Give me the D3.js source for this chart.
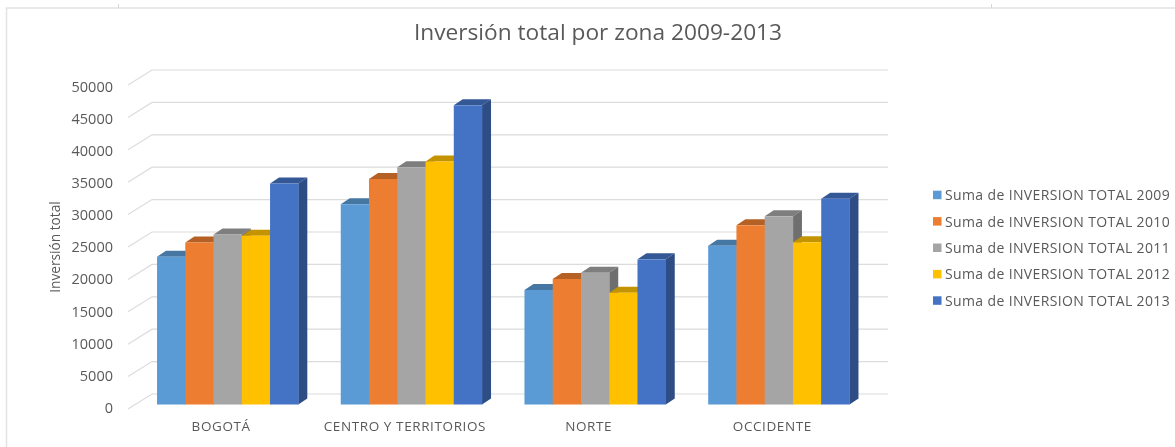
<!DOCTYPE html>
<html><head><meta charset="utf-8">
<script src="https://cdnjs.cloudflare.com/ajax/libs/d3/7.8.5/d3.min.js"></script>
<style>html,body{margin:0;padding:0;background:#fff;overflow:hidden}svg{display:block;font-family:"Open Sans",sans-serif;filter:blur(0.45px)}</style>
</head><body><svg id="c" width="1175" height="447"></svg>
<script>
const categories = ["BOGOTÁ","CENTRO Y TERRITORIOS","NORTE","OCCIDENTE"];
const seriesNames = ["Suma de INVERSION TOTAL 2009","Suma de INVERSION TOTAL 2010","Suma de INVERSION TOTAL 2011","Suma de INVERSION TOTAL 2012","Suma de INVERSION TOTAL 2013"];
const values2009 = [22800,30900,17670,24500];
const values2010 = [25000,34800,19370,27650];
const values2011 = [26250,36600,20340,29040];
const values2012 = [26050,37500,17250,25030];
const values2013 = [34100,46170,22400,31760];
const yTicks = [0,5000,10000,15000,20000,25000,30000,35000,40000,45000,50000];
const colors = ["#5b9bd5","#ed7d31","#a5a5a5","#ffc000","#4472c4"];
const allValues = [values2009,values2010,values2011,values2012,values2013];

const svg = d3.select("#c");
const dx = 9, dy = 6;
const floorY = 404.5, topY = 80.5;
const y = d3.scaleLinear().domain([0,50000]).range([floorY,topY]);
const yLabel = d3.scaleLinear().domain([0,50000]).range([413,91.7]);
const x0 = d3.scaleBand().domain(categories).range([135.9,870.6]).paddingInner(0.231).paddingOuter(0.115);
const x1 = d3.scaleBand().domain(seriesNames).range([0,x0.bandwidth()]);

// frame
svg.append("rect").attr("x",6.5).attr("y",8).attr("width",1175).attr("height",450).attr("fill","#fff").attr("stroke","#e2e2e2").attr("stroke-width",1.5);
[118.5,991.5].forEach(tx=>svg.append("line").attr("x1",tx).attr("x2",tx).attr("y1",4).attr("y2",8).attr("stroke","#d8d8d8"));

// gridlines on the wall and floor
const grid = svg.append("g").attr("fill","none").attr("stroke","#dcdcdc").attr("stroke-width",1.2);
yTicks.forEach(t=>{
  const yy = y(t);
  grid.append("polyline").attr("points",`128,${yy+4.5} 152,${yy-10.5} 888,${yy-10.5}`);
});

// y tick labels
svg.append("g").attr("fill","#595959").attr("font-size",14.5).attr("text-anchor","end")
  .selectAll("text").data(yTicks).join("text")
  .attr("x",113).attr("y",t=>yLabel(t)).text(t=>t);

// bars
categories.forEach((cat,ci)=>{
  const g = svg.append("g");
  seriesNames.forEach((s,si)=>{
    const v = allValues[si][ci];
    const xl = x0(cat)+x1(s), w = x1.bandwidth(), t = y(v), b = y(0);
    const c = d3.color(colors[si]);
    g.append("path").attr("fill",c.darker(0.75))
      .attr("d",`M${xl},${t}L${xl+dx},${t-dy}L${xl+w+dx},${t-dy}L${xl+w},${t}Z`);
    g.append("path").attr("fill",c.darker(1.1))
      .attr("d",`M${xl+w},${t}L${xl+w+dx},${t-dy}L${xl+w+dx},${b-dy}L${xl+w},${b}Z`);
    g.append("rect").attr("x",xl).attr("y",t).attr("width",w+0.3).attr("height",b-t).attr("fill",colors[si]);
  });
});

// category labels
svg.append("g").attr("fill","#595959").attr("font-size",13.5).attr("letter-spacing",0.6).attr("text-anchor","middle")
  .selectAll("text").data(categories).join("text")
  .attr("x",c=>x0(c)+x0.bandwidth()/2-6.5).attr("y",430.5).text(c=>c);

// titles
svg.append("text").attr("x",598).attr("y",40).attr("text-anchor","middle").attr("font-size",22.7).attr("fill","#595959").text("Inversión total por zona 2009-2013");
svg.append("text").attr("transform","translate(59.5,247) rotate(-90)").attr("text-anchor","middle").attr("font-size",13.7).attr("fill","#595959").text("Inversión total");

// legend
const leg = svg.append("g").selectAll("g").data(seriesNames).join("g")
  .attr("transform",(d,i)=>`translate(933,${190.7+i*26.4})`);
leg.append("rect").attr("width",8.5).attr("height",8.5).attr("fill",(d,i)=>colors[i]);
leg.append("text").attr("x",12).attr("y",9.5).attr("font-size",14).attr("letter-spacing",0.37).attr("fill","#595959").text(d=>d);
</script></body></html>
